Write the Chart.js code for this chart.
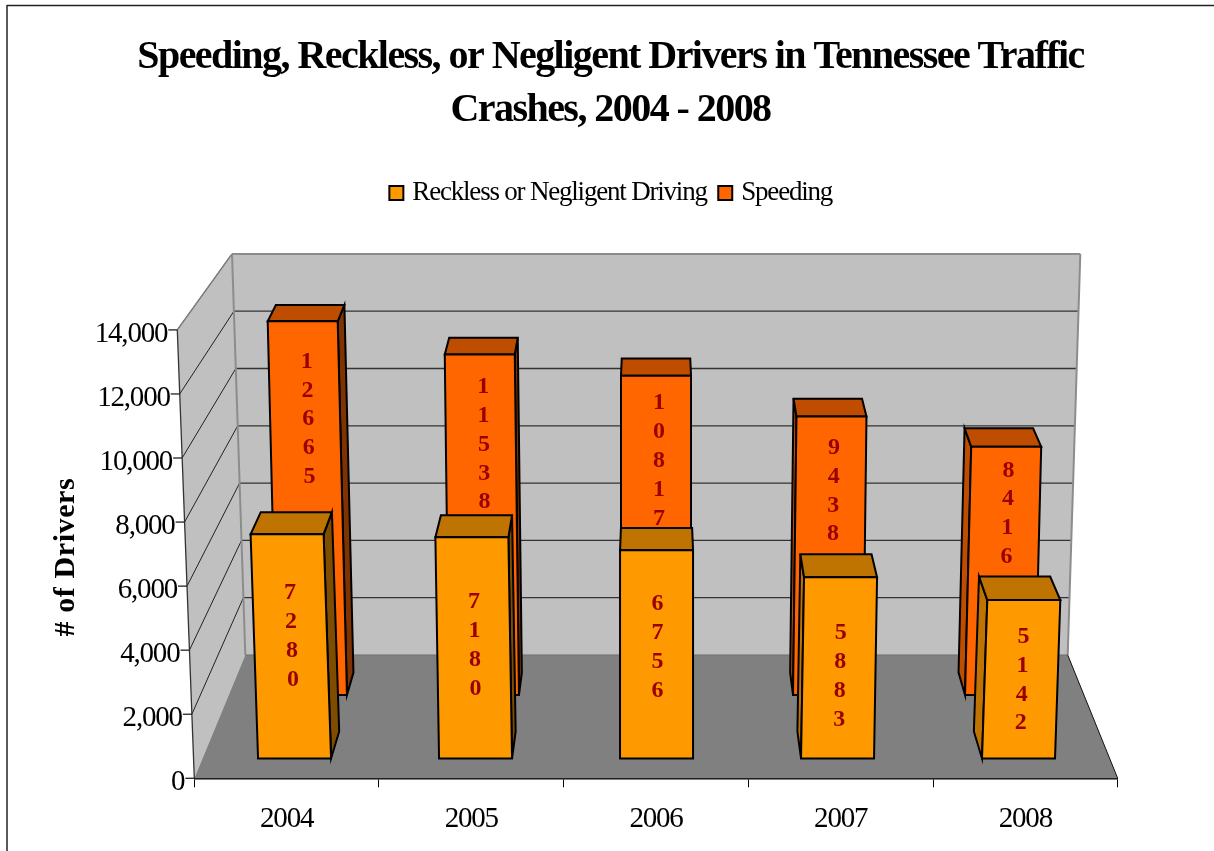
<!DOCTYPE html>
<html>
<head>
<meta charset="utf-8">
<title>Speeding, Reckless, or Negligent Drivers</title>
<script src="https://cdn.jsdelivr.net/npm/chart.js@4"></script>
<style>
  html, body { margin: 0; padding: 0; background: #fff; }
  canvas { display: block; }
</style>
</head>
<body>
<canvas id="grafica" width="1214" height="851"></canvas>
<script>
// datos
const categories = [2004, 2005, 2006, 2007, 2008];
const recklessValues = [7280, 7180, 6756, 5883, 5142];
const speedingValues = [12665, 11538, 10817, 9438, 8416];
const axisMax = 14000;
const axisStep = 2000;
const chartTitle = ["Speeding, Reckless, or Negligent Drivers in Tennessee Traffic", "Crashes, 2004 - 2008"];

const serif = '"Liberation Serif", serif';

// estilo de cada fila de barras (indice = dataset)
const barStyles = [
  { front: "#FF9900", top: "#BF7300", right: "#7F4D00", left: "#BF7300", lean: 9.2e-5, pull: 0.025, depth: 27, taper: 0.022, nudge: 1, drops: [102, 108, 97, 99, 80] },
  { front: "#FF6600", top: "#BF4D00", right: "#7F3300", left: "#BF4D00", lean: 7.2e-5, pull: 0.021, depth: 22.4, taper: 0.0163, nudge: 3, drops: [98, 90, 85, 74.5, 67] }
];

function poly(ctx, pts, fill, stroke, lw) {
  ctx.beginPath();
  pts.forEach((p, i) => i ? ctx.lineTo(p[0], p[1]) : ctx.moveTo(p[0], p[1]));
  ctx.closePath();
  if (fill) { ctx.fillStyle = fill; ctx.fill(); }
  if (stroke) { ctx.strokeStyle = stroke; ctx.lineWidth = lw; ctx.stroke(); }
}

function line(ctx, x1, y1, x2, y2, color, lw) {
  ctx.beginPath();
  ctx.moveTo(x1, y1);
  ctx.lineTo(x2, y2);
  ctx.strokeStyle = color;
  ctx.lineWidth = lw;
  ctx.stroke();
}

// la arista frontal del eje se inclina con el valor
const axisX = (chart, v) => chart.chartArea.left - 17 * v / axisMax;
const wallLeftX = v => 245.3 - 13.3 * v / axisMax;
const wallRightX = v => 1067.7 + 12.6 * v / axisMax;

const barras3d = {
  id: "barras3d",
  afterUpdate(chart) {
    // etiquetas del eje y siguiendo la arista inclinada
    const y = chart.scales.y;
    y.getLabelItems().forEach((item, i) => {
      item.options.translation[0] = axisX(chart, y.ticks[i].value) - 10;
      item.options.translation[1] += 4;
    });
  },
  beforeDatasetsDraw(chart) {
    const ctx = chart.ctx, area = chart.chartArea;
    const main = chart.scales.y, wall = chart.scales.yWall;
    const wy = v => wall.getPixelForValue(v);
    ctx.save();

    // marco de la imagen
    line(ctx, 7, 5.5, 1214, 5.5, "#222", 1.5);
    line(ctx, 7, 5, 7, 851, "#222", 1.5);

    // paredes y piso
    poly(ctx, [[axisX(chart, axisMax), main.getPixelForValue(axisMax)], [wallLeftX(axisMax), wy(axisMax)], [wallLeftX(0), wy(0)], [area.left, area.bottom]], "#C0C0C0");
    poly(ctx, [[wallLeftX(axisMax), wy(axisMax)], [wallRightX(axisMax), wy(axisMax)], [wallRightX(0), wy(0)], [wallLeftX(0), wy(0)]], "#C0C0C0");
    poly(ctx, [[area.left, area.bottom], [wallLeftX(0), wy(0)], [wallRightX(0), wy(0)], [area.right, area.bottom]], "#808080");

    // lineas de division
    main.ticks.forEach(t => {
      const v = t.value;
      if (v > 0 && v < axisMax) {
        line(ctx, wallLeftX(v), wy(v), wallRightX(v), wy(v), "#333", 1.3);
      }
      if (v > 0) {
        line(ctx, axisX(chart, v), main.getPixelForValue(v), wallLeftX(v), wy(v), "#222", 1);
      }
    });

    // bordes grises de las paredes
    line(ctx, axisX(chart, axisMax), main.getPixelForValue(axisMax), wallLeftX(axisMax), wy(axisMax), "#808080", 1.5);
    line(ctx, wallLeftX(axisMax), wy(axisMax), wallRightX(axisMax), wy(axisMax), "#8C8C8C", 2);
    line(ctx, wallLeftX(axisMax), wy(axisMax), wallLeftX(0), wy(0), "#8C8C8C", 2);
    line(ctx, wallRightX(axisMax), wy(axisMax), wallRightX(0), wy(0), "#8C8C8C", 2);
    line(ctx, wallLeftX(0), wy(0), wallRightX(0), wy(0), "#707070", 1);
    line(ctx, wallRightX(0), wy(0), area.right, area.bottom, "#111", 1);

    // eje y inclinado con sus marcas
    line(ctx, axisX(chart, axisMax), main.getPixelForValue(axisMax), area.left, area.bottom, "#333", 1.3);
    main.ticks.forEach(t => {
      const x = axisX(chart, t.value), py = main.getPixelForValue(t.value);
      line(ctx, x - 9, py, x, py, "#222", 1.3);
    });
    ctx.restore();
  },
  beforeDatasetDraw(chart, args) {
    const ctx = chart.ctx;
    const st = barStyles[args.index];
    const vx = (chart.chartArea.left + chart.chartArea.right) / 2;
    ctx.save();
    ctx.lineJoin = "miter";
    args.meta.data.forEach((bar, i) => {
      const { x, y, base, width } = bar;
      const shift = py => (x - vx) * st.lean * (base - py);
      const back = p => [p[0] + (vx - p[0]) * st.pull, p[1] - (st.depth - st.taper * (base - p[1]))];
      const bl = [x - width / 2, base], br = [x + width / 2, base];
      const tl = [bl[0] + shift(y), y], tr = [br[0] + shift(y), y];

      if (back(br)[0] > br[0]) poly(ctx, [br, tr, back(tr), back(br)], st.right, "#000", 2);
      if (back(bl)[0] < bl[0]) poly(ctx, [bl, tl, back(tl), back(bl)], st.left, "#000", 2);
      poly(ctx, [tl, tr, back(tr), back(tl)], st.top, "#000", 2);
      poly(ctx, [bl, br, tr, tl], st.front, "#000", 2);

      // valor en columna, un digito por renglon
      const digits = String(args.meta.controller.getDataset().data[i].y).split("");
      const cy = y + st.drops[i];
      ctx.letterSpacing = "0px";
      ctx.font = "bold 24px " + serif;
      ctx.fillStyle = "#990000";
      ctx.textAlign = "center";
      ctx.textBaseline = "middle";
      digits.forEach((d, k) => {
        const dy = cy + (k - (digits.length - 1) / 2) * 28.8;
        ctx.fillText(d, x + shift(dy) + st.nudge, dy);
      });
    });
    ctx.restore();
    return false;
  }
};

// el original esta comprimido en horizontal: letra alta y apretada
const textoApretado = {
  id: "textoApretado",
  beforeUpdate(chart) {
    chart.ctx.letterSpacing = "-1.2px";
  },
  beforeInit(chart) {
    const drawTitle = chart.titleBlock.draw;
    chart.titleBlock.draw = function () {
      chart.ctx.letterSpacing = "-1.55px";
      drawTitle.call(this);
      chart.ctx.letterSpacing = "-1.2px";
    };
  },
  afterUpdate(chart) {
    // el titulo vertical no queda comprimido a lo largo
    const y = chart.scales.y;
    if (y.tituloListo) return;
    y.tituloListo = true;
    const drawTitle = y.drawTitle;
    y.drawTitle = function () {
      const ctx = chart.ctx;
      ctx.save();
      ctx.letterSpacing = "0.6px";
      ctx.translate(0, 3);
      drawTitle.call(this);
      ctx.restore();
    };
  }
};

// espacio entre la leyenda y el area de la grafica
const legendGap = {
  id: "legendGap",
  beforeInit(chart) {
    const fit = chart.legend.fit;
    chart.legend.fit = function () {
      fit.call(this);
      this.height = 161.5;
    };
    const draw = chart.legend.draw;
    chart.legend.draw = function () {
      chart.ctx.save();
      chart.ctx.translate(2.5, -5);
      draw.call(this);
      chart.ctx.restore();
    };
  }
};

new Chart(document.getElementById("grafica"), {
  type: "bar",
  plugins: [textoApretado, legendGap, barras3d],
  data: {
    labels: categories,
    datasets: [
      {
        label: "Reckless or Negligent Driving",
        data: categories.map((c, i) => ({ x: c, y: recklessValues[i] })),
        backgroundColor: "#FF9900",
        borderColor: "#000",
        borderWidth: 2,
        barThickness: 73,
        grouped: false,
        xAxisID: "xFront",
        yAxisID: "yFront",
        clip: false
      },
      {
        label: "Speeding",
        data: categories.map((c, i) => ({ x: c, y: speedingValues[i] })),
        backgroundColor: "#FF6600",
        borderColor: "#000",
        borderWidth: 2,
        barThickness: 70,
        grouped: false,
        xAxisID: "xBack",
        yAxisID: "yBack",
        clip: false
      }
    ]
  },
  options: {
    responsive: false,
    animation: false,
    layout: { padding: { left: 7 } },
    plugins: {
      tooltip: { enabled: false },
      title: {
        display: true,
        text: chartTitle,
        color: "#000",
        font: { family: serif, size: 40, weight: "bold", lineHeight: 1.33 },
        padding: { top: 31, bottom: 31 }
      },
      legend: {
        display: true,
        position: "top",
        labels: {
          color: "#000",
          font: { family: serif, size: 27 },
          usePointStyle: true,
          pointStyle: "rect",
          boxWidth: 5,
          boxHeight: 14,
          padding: 16
        }
      }
    },
    scales: {
      x: {
        type: "category",
        offset: true,
        z: 1,
        afterFit(s) { s.height = 72.7; },
        border: { display: true, color: "#000", width: 1.5 },
        grid: { display: true, drawOnChartArea: false, offset: true, tickLength: 9, color: "#000", lineWidth: 1 },
        ticks: { color: "#000", font: { family: serif, size: 29 }, padding: 15, maxRotation: 0, autoSkip: false }
      },
      y: {
        type: "linear",
        min: 0,
        max: axisMax,
        afterFit(s) { s.width = 187.3; },
        border: { display: false },
        grid: { display: false },
        ticks: {
          stepSize: axisStep,
          autoSkip: false,
          color: "#000",
          font: { family: serif, size: 29 },
          callback: v => v.toLocaleString("en-US")
        },
        title: {
          display: true,
          text: "# of Drivers",
          color: "#000",
          font: { family: serif, size: 30, weight: "bold" },
          padding: { top: 41, bottom: 0 }
        }
      },
      // escalas ocultas: cada fila de barras tiene su propia perspectiva
      xFront: { type: "linear", display: false, offset: false, min: 2003.446, max: 2008.548, grid: { offset: false } },
      yFront: { type: "linear", display: false, min: -643, max: 13912 },
      xBack: { type: "linear", display: false, offset: false, min: 2003.316, max: 2008.684, grid: { offset: false } },
      yBack: { type: "linear", display: false, min: -2824, max: 12373 },
      yWall: {
        type: "linear",
        position: "right",
        min: -4305,
        max: 11348,
        afterFit(s) { s.width = 96.3; },
        border: { display: false },
        grid: { display: false },
        ticks: { display: false }
      }
    }
  }
});
</script>
</body>
</html>
